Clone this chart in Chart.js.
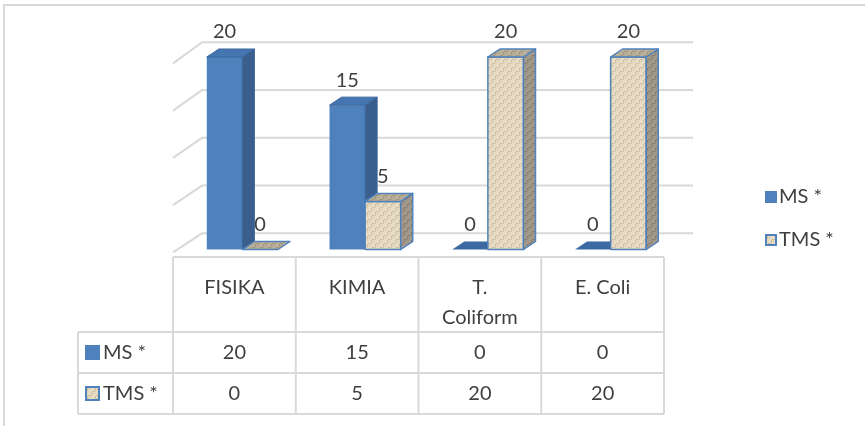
<!DOCTYPE html>
<html>
<head>
<meta charset="utf-8">
<script src="https://cdn.jsdelivr.net/npm/chart.js@4/dist/chart.umd.min.js"></script>
<style>
  html, body { margin: 0; padding: 0; background: #fff; }
  canvas { display: block; }
</style>
</head>
<body>
<canvas id="c" width="865" height="431"></canvas>
<script>
// ---- data ----
const categories = ['FISIKA', 'KIMIA', ['T.', 'Coliform'], 'E. Coli'];
const seriesNames = ['MS *', 'TMS *'];
const msValues = [20, 15, 0, 0];
const tmsValues = [0, 5, 20, 20];
const gridTicks = [0, 5, 10, 15, 20];

// ---- look ----
const FONT = '20px Lato, "Open Sans", sans-serif';
const TEXT = '#3f3f3f';
const LINE = '#d9d9d9';
const BAR_SHIFT = 8;            // bars sit a little behind the front edge of the floor
const BAR_DX = 12, BAR_DY = -8; // depth of a bar
const WALL_DX = 29;             // depth of the floor / back wall
const BACK_BASE = -16.2, BACK_SCALE = 0.992;

// woven texture for the TMS series
function makeTexture(base, dark, light) {
  const c = document.createElement('canvas');
  c.width = 8; c.height = 8;
  const g = c.getContext('2d');
  g.fillStyle = base; g.fillRect(0, 0, 8, 8);
  g.fillStyle = dark;
  g.fillRect(0, 3, 3, 1); g.fillRect(4, 7, 3, 1);
  g.fillRect(3, 0, 1, 3); g.fillRect(7, 4, 1, 3);
  g.fillRect(5, 1, 1, 1); g.fillRect(1, 5, 1, 1);
  g.fillStyle = light;
  g.fillRect(1, 1, 1, 1); g.fillRect(5, 5, 1, 1);
  g.fillRect(6, 2, 1, 1); g.fillRect(2, 6, 1, 1);
  return g.createPattern(c, 'repeat');
}
const ctxMain = document.getElementById('c').getContext('2d');
const tmsFront = makeTexture('#e6dbc2', '#cdbf9f', '#f2ead8');
const tmsSide  = makeTexture('#a0978a', '#898070', '#b0a897');
const tmsTop   = makeTexture('#b8ae98', '#a0967e', '#c8bfaa');

const styles = [
  { front: '#4f81bd', side: '#3a5f8d', top: '#4676b1', edge: '#3b669c', flat: '#3d69a2', lw: 1 },
  { front: tmsFront, side: tmsSide, top: tmsTop, edge: '#4f81bd', flat: tmsTop, lw: 1.5 }
];

function poly(ctx, pts, fill, stroke, lw) {
  ctx.beginPath();
  ctx.moveTo(pts[0][0], pts[0][1]);
  for (let i = 1; i < pts.length; i++) ctx.lineTo(pts[i][0], pts[i][1]);
  ctx.closePath();
  ctx.fillStyle = fill; ctx.fill();
  if (stroke) { ctx.strokeStyle = stroke; ctx.lineWidth = lw; ctx.lineJoin = 'round'; ctx.stroke(); }
}

const scene3d = {
  id: 'scene3d',
  beforeDraw(chart) {
    const ctx = chart.ctx;
    ctx.save();
    ctx.strokeStyle = LINE; ctx.lineWidth = 2;
    ctx.beginPath();
    ctx.moveTo(4, 426); ctx.lineTo(4, 5); ctx.lineTo(865, 5);
    ctx.stroke();
    ctx.restore();
  },
  beforeDatasetsDraw(chart) {
    const ctx = chart.ctx, ya = chart.scales.y, a = chart.chartArea;
    ctx.save();
    ctx.strokeStyle = LINE; ctx.lineWidth = 2;
    gridTicks.forEach(t => {
      const yf = ya.getPixelForValue(t);
      const yb = a.bottom + BACK_BASE - (a.bottom - yf) * BACK_SCALE;
      const dy = 19 + 2 * (t / 20);
      ctx.beginPath();
      ctx.moveTo(a.left, yb + dy);
      ctx.lineTo(a.left + WALL_DX, yb);
      ctx.lineTo(a.right + WALL_DX, yb);
      ctx.stroke();
    });
    // value labels (the bars are drawn over them)
    ctx.font = FONT; ctx.fillStyle = TEXT;
    ctx.textAlign = 'center'; ctx.textBaseline = 'middle';
    chart.data.datasets.forEach((ds, di) => {
      chart.getDatasetMeta(di).data.forEach((el, i) => {
        ctx.fillText(String(ds.data[i]), el.x + BAR_SHIFT, el.y + BAR_DY - 17);
      });
    });
    ctx.restore();
  },
  beforeDatasetDraw() { return false; },
  afterDatasetsDraw(chart) {
    const ctx = chart.ctx;
    ctx.save();
    const n = chart.data.labels.length;
    for (let i = 0; i < n; i++) {
      chart.data.datasets.forEach((ds, di) => {
        const el = chart.getDatasetMeta(di).data[i];
        const s = styles[di];
        const x0 = el.x - el.width / 2 + BAR_SHIFT, x1 = x0 + el.width;
        const yt = el.y, yb = el.base;
        const top = [[x0, yt], [x0 + BAR_DX, yt + BAR_DY], [x1 + BAR_DX, yt + BAR_DY], [x1, yt]];
        if (yb - yt < 0.5) {
          poly(ctx, top, s.flat, di === 1 ? s.edge : null, s.lw);
          return;
        }
        poly(ctx, [[x0, yt], [x1, yt], [x1, yb], [x0, yb]], s.front, di === 1 ? s.edge : null, s.lw);
        poly(ctx, [[x1, yt], [x1 + BAR_DX, yt + BAR_DY], [x1 + BAR_DX, yb + BAR_DY], [x1, yb]], s.side, s.edge, s.lw);
        poly(ctx, top, s.top, s.edge, s.lw);
      });
    }
    ctx.restore();
  },
  afterDraw(chart) {
    const ctx = chart.ctx, xa = chart.scales.x, a = chart.chartArea;
    const n = chart.data.labels.length;
    const cw = (a.right - a.left) / n;
    const tableTop = 257, rows = [332, 373, 414], keyLeft = 78;
    ctx.save();
    ctx.strokeStyle = LINE; ctx.lineWidth = 2;
    ctx.beginPath();
    ctx.moveTo(a.left, tableTop); ctx.lineTo(a.right, tableTop);
    rows.forEach(y => { ctx.moveTo(keyLeft, y); ctx.lineTo(a.right, y); });
    for (let i = 0; i <= n; i++) {
      const x = xa.getPixelForValue(Math.min(i, n - 1)) + (i === n ? cw / 2 : -cw / 2);
      ctx.moveTo(x, tableTop); ctx.lineTo(x, rows[2]);
    }
    ctx.moveTo(keyLeft, rows[0]); ctx.lineTo(keyLeft, rows[2]);
    ctx.stroke();

    ctx.font = FONT; ctx.fillStyle = TEXT; ctx.textBaseline = 'middle';
    // category headers
    ctx.textAlign = 'center';
    chart.data.labels.forEach((lab, i) => {
      const x = xa.getPixelForValue(i);
      const lines = Array.isArray(lab) ? lab : [lab];
      lines.forEach((t, k) => ctx.fillText(t, x, 288 + k * 30));
    });
    // series rows
    chart.data.datasets.forEach((ds, di) => {
      const cy = (rows[di] + rows[di + 1]) / 2;
      const s = styles[di];
      ctx.fillStyle = di === 0 ? s.front : tmsFront;
      ctx.fillRect(85, cy - 7.5, 15, 15);
      if (di === 1) { ctx.strokeStyle = s.edge; ctx.lineWidth = 2; ctx.strokeRect(86, cy - 6.5, 13, 13); }
      ctx.fillStyle = TEXT; ctx.textAlign = 'left';
      ctx.fillText(ds.label, 103, cy);
      ctx.textAlign = 'center';
      ds.data.forEach((v, i) => ctx.fillText(String(v), xa.getPixelForValue(i), cy));
    });
    // legend
    const legY = [197, 240];
    chart.data.datasets.forEach((ds, di) => {
      const s = styles[di];
      const cy = legY[di];
      ctx.fillStyle = di === 0 ? s.front : tmsFront;
      ctx.fillRect(765, cy - 6, 12, 12);
      if (di === 1) { ctx.strokeStyle = s.edge; ctx.lineWidth = 2; ctx.strokeRect(766, cy - 5, 10, 10); }
      ctx.fillStyle = TEXT; ctx.textAlign = 'left';
      ctx.fillText(ds.label, 779, cy);
    });
    ctx.restore();
  }
};

new Chart(ctxMain, {
  type: 'bar',
  data: {
    labels: categories,
    datasets: [
      { label: seriesNames[0], data: msValues, backgroundColor: '#4f81bd', categoryPercentage: 0.58, barPercentage: 1 },
      { label: seriesNames[1], data: tmsValues, backgroundColor: tmsFront, categoryPercentage: 0.58, barPercentage: 1 }
    ]
  },
  options: {
    responsive: false,
    animation: false,
    layout: { padding: { left: 173, right: 201, top: 57, bottom: 181.5 } },
    scales: {
      x: { display: false },
      y: { display: false, min: 0, max: 20 }
    },
    plugins: { legend: { display: false }, tooltip: { enabled: false } }
  },
  plugins: [scene3d]
});
</script>
</body>
</html>
